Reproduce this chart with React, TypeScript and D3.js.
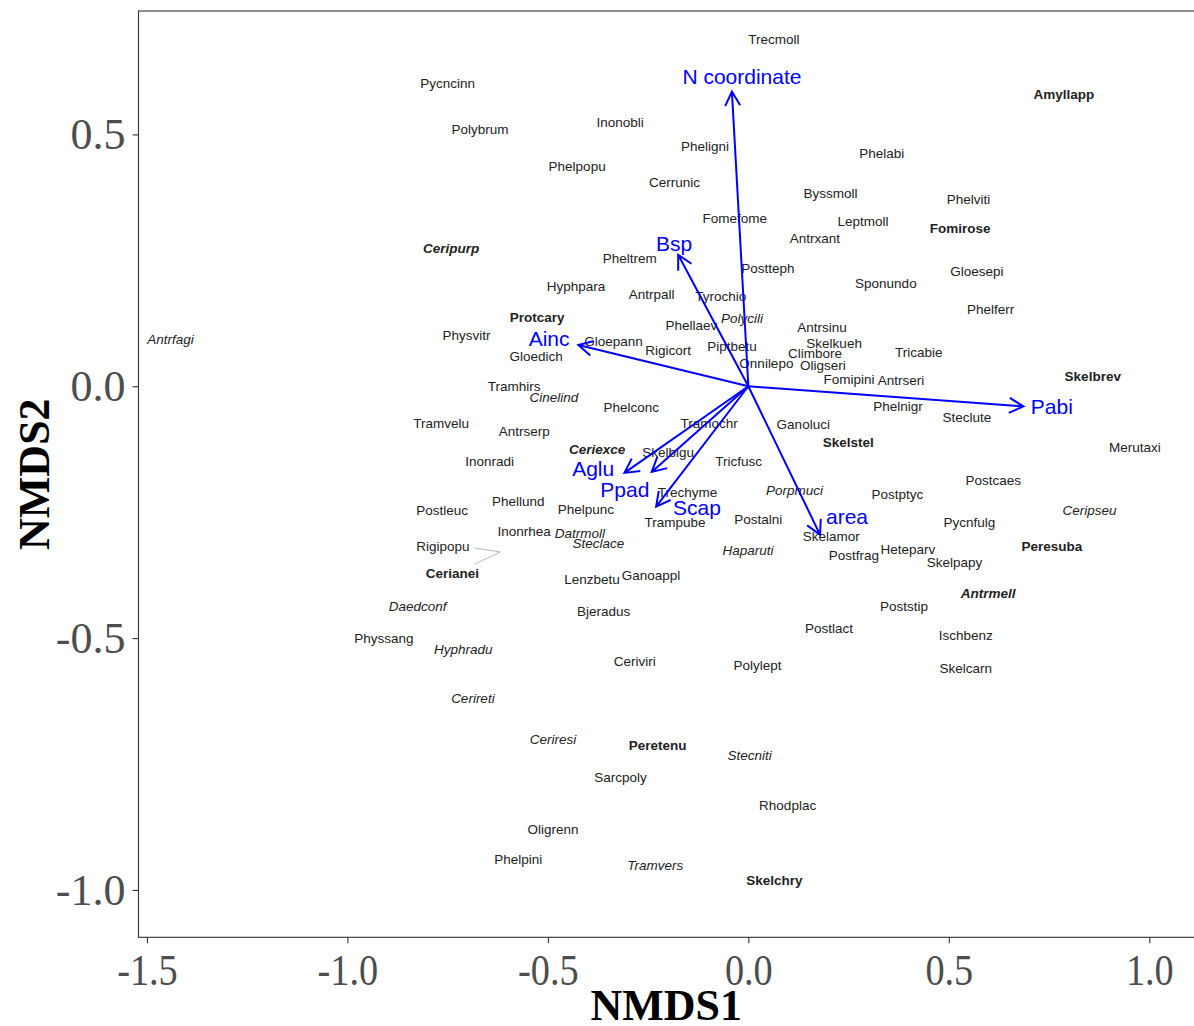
import React, { useEffect, useRef } from "react";
import * as d3 from "d3";

const width = 1194;
const height = 1026;

// axis limits and ticks (NMDS units)
const xLimits = [-1.521, 1.114];
const yLimits = [-1.094, 0.745];
const xTicks = [-1.5, -1.0, -0.5, 0.0, 0.5, 1.0];
const yTicks = [-1.0, -0.5, 0.0, 0.5];

// species labels: name, NMDS1, NMDS2, face (n normal, i italic, b bold, bi bold italic)
const species: [string, number, number, string][] = [
  ["Trecmoll", 0.064, 0.689, "n"],
  ["Pycncinn", -0.75, 0.602, "n"],
  ["Amyllapp", 0.787, 0.579, "b"],
  ["Polybrum", -0.669, 0.511, "n"],
  ["Inonobli", -0.32, 0.524, "n"],
  ["Pheligni", -0.108, 0.476, "n"],
  ["Phelabi", 0.333, 0.463, "n"],
  ["Phelpopu", -0.427, 0.436, "n"],
  ["Cerrunic", -0.184, 0.405, "n"],
  ["Byssmoll", 0.205, 0.384, "n"],
  ["Phelviti", 0.549, 0.372, "n"],
  ["Fomefome", -0.034, 0.333, "n"],
  ["Leptmoll", 0.286, 0.327, "n"],
  ["Fomirose", 0.528, 0.313, "b"],
  ["Antrxant", 0.166, 0.293, "n"],
  ["Ceripurp", -0.741, 0.274, "bi"],
  ["Pheltrem", -0.296, 0.255, "n"],
  ["Postteph", 0.049, 0.234, "n"],
  ["Gloesepi", 0.57, 0.228, "n"],
  ["Sponundo", 0.343, 0.205, "n"],
  ["Hyphpara", -0.43, 0.198, "n"],
  ["Antrpall", -0.241, 0.182, "n"],
  ["Tyrochio", -0.069, 0.178, "n"],
  ["Phelferr", 0.604, 0.153, "n"],
  ["Protcary", -0.527, 0.137, "b"],
  ["Polycili", -0.016, 0.134, "i"],
  ["Phellaev", -0.142, 0.121, "n"],
  ["Antrsinu", 0.184, 0.118, "n"],
  ["Physvitr", -0.703, 0.102, "n"],
  ["Antrfagi", -1.441, 0.094, "i"],
  ["Gloepann", -0.336, 0.089, "n"],
  ["Skelkueh", 0.214, 0.086, "n"],
  ["Piptbetu", -0.041, 0.079, "n"],
  ["Rigicort", -0.2, 0.071, "n"],
  ["Climbore", 0.166, 0.066, "n"],
  ["Tricabie", 0.425, 0.067, "n"],
  ["Gloedich", -0.529, 0.059, "n"],
  ["Onnilepo", 0.045, 0.045, "n"],
  ["Oligseri", 0.186, 0.041, "n"],
  ["Fomipini", 0.251, 0.013, "n"],
  ["Antrseri", 0.381, 0.011, "n"],
  ["Skelbrev", 0.859, 0.019, "b"],
  ["Tramhirs", -0.584, -0.001, "n"],
  ["Cinelind", -0.485, -0.021, "i"],
  ["Phelconc", -0.292, -0.042, "n"],
  ["Phelnigr", 0.373, -0.04, "n"],
  ["Steclute", 0.545, -0.061, "n"],
  ["Tramvelu", -0.766, -0.073, "n"],
  ["Tramochr", -0.098, -0.073, "n"],
  ["Ganoluci", 0.137, -0.076, "n"],
  ["Antrserp", -0.559, -0.09, "n"],
  ["Skelstel", 0.249, -0.111, "b"],
  ["Merutaxi", 0.964, -0.121, "n"],
  ["Ceriexce", -0.377, -0.126, "bi"],
  ["Skelbigu", -0.2, -0.131, "n"],
  ["Inonradi", -0.645, -0.148, "n"],
  ["Tricfusc", -0.024, -0.148, "n"],
  ["Postcaes", 0.611, -0.187, "n"],
  ["Trechyme", -0.152, -0.21, "n"],
  ["Porpmuci", 0.115, -0.207, "i"],
  ["Postptyc", 0.372, -0.215, "n"],
  ["Phellund", -0.574, -0.229, "n"],
  ["Ceripseu", 0.851, -0.247, "i"],
  ["Postleuc", -0.764, -0.247, "n"],
  ["Phelpunc", -0.405, -0.245, "n"],
  ["Postalni", 0.025, -0.265, "n"],
  ["Trampube", -0.183, -0.27, "n"],
  ["Pycnfulg", 0.551, -0.27, "n"],
  ["Inonrhea", -0.559, -0.287, "n"],
  ["Datrmoll", -0.42, -0.291, "i"],
  ["Skelamor", 0.207, -0.298, "n"],
  ["Steclace", -0.374, -0.311, "i"],
  ["Rigipopu", -0.762, -0.317, "n"],
  ["Peresuba", 0.757, -0.318, "b"],
  ["Heteparv", 0.398, -0.323, "n"],
  ["Haparuti", -0.001, -0.325, "i"],
  ["Postfrag", 0.263, -0.335, "n"],
  ["Skelpapy", 0.514, -0.349, "n"],
  ["Ganoappl", -0.243, -0.375, "n"],
  ["Lenzbetu", -0.39, -0.384, "n"],
  ["Cerianei", -0.738, -0.372, "b"],
  ["Antrmell", 0.598, -0.411, "bi"],
  ["Daedconf", -0.825, -0.436, "i"],
  ["Poststip", 0.388, -0.437, "n"],
  ["Bjeradus", -0.361, -0.447, "n"],
  ["Postlact", 0.201, -0.481, "n"],
  ["Ischbenz", 0.542, -0.495, "n"],
  ["Physsang", -0.909, -0.501, "n"],
  ["Hyphradu", -0.711, -0.522, "i"],
  ["Ceriviri", -0.283, -0.546, "n"],
  ["Polylept", 0.023, -0.553, "n"],
  ["Skelcarn", 0.542, -0.559, "n"],
  ["Cerireti", -0.687, -0.619, "i"],
  ["Ceriresi", -0.487, -0.7, "i"],
  ["Peretenu", -0.226, -0.713, "b"],
  ["Stecniti", 0.003, -0.732, "i"],
  ["Sarcpoly", -0.319, -0.777, "n"],
  ["Rhodplac", 0.098, -0.831, "n"],
  ["Oligrenn", -0.487, -0.879, "n"],
  ["Phelpini", -0.574, -0.94, "n"],
  ["Tramvers", -0.232, -0.951, "i"],
  ["Skelchry", 0.065, -0.98, "b"],
];

// repel segments: label edge -> point
const segments: [number, number, number, number][] = [
  [-0.684, -0.321, -0.619, -0.329],
  [-0.682, -0.353, -0.619, -0.329],
];

// fitted environmental vectors: name, arrow tip x, y, label x, y
const vectors: [string, number, number, number, number][] = [
  ["N coordinate", -0.041, 0.585, -0.016, 0.615],
  ["Bsp", -0.175, 0.261, -0.185, 0.284],
  ["Ainc", -0.424, 0.082, -0.497, 0.094],
  ["Pabi", 0.686, -0.04, 0.757, -0.041],
  ["Aglu", -0.309, -0.172, -0.387, -0.164],
  ["Ppad", -0.241, -0.17, -0.308, -0.205],
  ["Scap", -0.23, -0.239, -0.128, -0.242],
  ["area", 0.179, -0.295, 0.246, -0.258],
];

const faceStyle: Record<string, [string, string]> = {
  n: ["normal", "normal"],
  i: ["normal", "italic"],
  b: ["bold", "normal"],
  bi: ["bold", "italic"],
};

const App = () => {
  const ref = useRef<SVGSVGElement>(null);

  useEffect(() => {
    document.body.style.margin = "0";
    const svg = d3.select(ref.current);
    svg.selectAll("*").remove();

    const panel = { left: 138.5, right: 1195, top: 11, bottom: 937.3 };
    const x = d3.scaleLinear().domain(xLimits).range([panel.left, panel.right]);
    const y = d3.scaleLinear().domain(yLimits).range([panel.bottom, panel.top]);

    svg.append("rect").attr("width", width).attr("height", height).attr("fill", "#fff");

    // axes
    const xAxis = svg
      .append("g")
      .attr("transform", `translate(0,${panel.bottom})`)
      .call(
        d3.axisBottom(x).tickValues(xTicks).tickFormat((d: any) => d.toFixed(1)).tickSize(6).tickPadding(10)
      );
    const yAxis = svg
      .append("g")
      .attr("transform", `translate(${panel.left},0)`)
      .call(
        d3.axisLeft(y).tickValues(yTicks).tickFormat((d: any) => d.toFixed(1)).tickSize(6).tickPadding(7)
      );
    [xAxis, yAxis].forEach(a => {
      a.select(".domain").remove();
      a.selectAll(".tick line").attr("stroke", "#333").attr("stroke-width", 1.1);
      a.selectAll(".tick text")
        .attr("fill", "#4d4d4d")
        .attr("font-family", "'Liberation Serif', 'Times New Roman', serif")
        .attr("font-size", 44);
    });
    // x tick labels are a little narrower in the original
    xAxis.selectAll(".tick text").attr("transform", "scale(0.87,1)");

    // panel border
    svg
      .append("rect")
      .attr("x", panel.left)
      .attr("y", panel.top)
      .attr("width", panel.right - panel.left)
      .attr("height", panel.bottom - panel.top)
      .attr("fill", "none")
      .attr("stroke", "#333")
      .attr("stroke-width", 1.1);

    // axis titles
    svg
      .append("text")
      .attr("x", (panel.left + 1194) / 2)
      .attr("y", 1020)
      .attr("text-anchor", "middle")
      .attr("font-family", "'Liberation Serif', 'Times New Roman', serif")
      .attr("font-weight", "bold")
      .attr("font-size", 44)
      .text("NMDS1");
    svg
      .append("text")
      .attr("transform", `translate(49,${(panel.top + panel.bottom) / 2}) rotate(-90)`)
      .attr("text-anchor", "middle")
      .attr("font-family", "'Liberation Serif', 'Times New Roman', serif")
      .attr("font-weight", "bold")
      .attr("font-size", 44)
      .text("NMDS2");

    const plot = svg.append("g");

    // repel segments
    plot
      .selectAll("line.seg")
      .data(segments)
      .join("line")
      .attr("class", "seg")
      .attr("x1", d => x(d[0]))
      .attr("y1", d => y(d[1]))
      .attr("x2", d => x(d[2]))
      .attr("y2", d => y(d[3]))
      .attr("stroke", "#9a9a9a")
      .attr("stroke-width", 0.7);

    // species labels
    plot
      .selectAll("text.sp")
      .data(species)
      .join("text")
      .attr("class", "sp")
      .attr("x", d => x(d[1]))
      .attr("y", d => y(d[2]))
      .attr("dy", "0.35em")
      .attr("text-anchor", "middle")
      .attr("font-family", "'Liberation Sans', Arial, sans-serif")
      .attr("font-size", 13.5)
      .attr("font-weight", d => faceStyle[d[3]][0])
      .attr("font-style", d => faceStyle[d[3]][1])
      .attr("fill", "#222")
      .text(d => d[0]);

    // vectors
    const blue = "#0000ff";
    const headLen = 16;
    const headAng = (28 * Math.PI) / 180;
    const x0 = x(0),
      y0 = y(0);
    const arrowPath = (d: [string, number, number, number, number]) => {
      const tx = x(d[1]),
        ty = y(d[2]);
      const a = Math.atan2(ty - y0, tx - x0);
      const p = d3.path();
      p.moveTo(x0, y0);
      p.lineTo(tx, ty);
      p.moveTo(tx - headLen * Math.cos(a - headAng), ty - headLen * Math.sin(a - headAng));
      p.lineTo(tx, ty);
      p.lineTo(tx - headLen * Math.cos(a + headAng), ty - headLen * Math.sin(a + headAng));
      return p.toString();
    };
    plot
      .selectAll("path.vec")
      .data(vectors)
      .join("path")
      .attr("class", "vec")
      .attr("d", arrowPath)
      .attr("fill", "none")
      .attr("stroke", blue)
      .attr("stroke-width", 2)
      .attr("stroke-linejoin", "miter");

    plot
      .selectAll("text.vec")
      .data(vectors)
      .join("text")
      .attr("class", "vec")
      .attr("x", d => x(d[3]))
      .attr("y", d => y(d[4]))
      .attr("dy", "0.35em")
      .attr("text-anchor", "middle")
      .attr("font-family", "'Liberation Sans', Arial, sans-serif")
      .attr("font-size", 21)
      .attr("fill", blue)
      .text(d => d[0]);
  }, []);

  return <svg ref={ref} width={width} height={height} style={{ display: "block" }}></svg>;
};

export default App;
